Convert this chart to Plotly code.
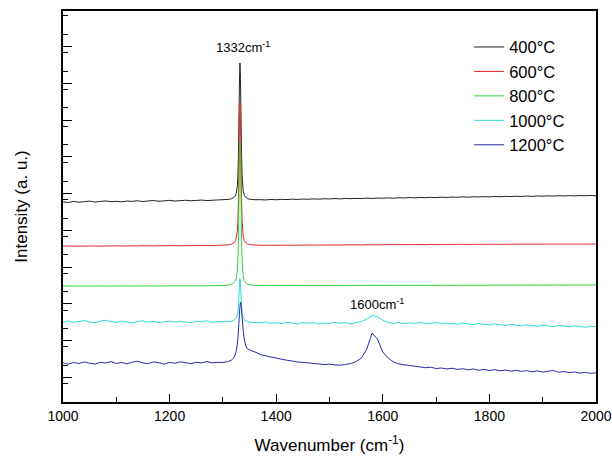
import plotly.graph_objects as go

# Raman shift grid (cm-1), finer around the diamond peak
wavenumber = [
    1000, 1010, 1020, 1030, 1040, 1050, 1060, 1070, 1080, 1090,
    1100, 1110, 1120, 1130, 1140, 1150, 1160, 1170, 1180, 1190,
    1200, 1210, 1220, 1230, 1240, 1250, 1260, 1270, 1280, 1290, 1300,
    1310, 1316, 1320, 1323, 1325, 1327, 1328, 1329, 1330, 1331, 1332,
    1333, 1334, 1335, 1336, 1338, 1340, 1343, 1346, 1350, 1356, 1362,
    1370, 1380, 1390, 1400, 1410, 1420, 1430, 1440, 1450,
    1460, 1470, 1480, 1490, 1500, 1510, 1520, 1530, 1540, 1550,
    1560, 1570, 1580, 1590, 1600, 1610, 1620, 1630, 1640, 1650,
    1660, 1670, 1680, 1690, 1700, 1710, 1720, 1730, 1740, 1750,
    1760, 1770, 1780, 1790, 1800, 1810, 1820, 1830, 1840, 1850,
    1860, 1870, 1880, 1890, 1900, 1910, 1920, 1930, 1940, 1950,
    1960, 1970, 1980, 1990, 2000,
]

# intensities (a.u., curves already stacked)
i_400 = [
    2003, 1996, 2008, 1999, 2005, 2010, 2001, 2007, 2012, 2004,
    2009, 2003, 2011, 2008, 2014, 2006, 2012, 2016, 2009, 2013,
    2018, 2011, 2015, 2019, 2014, 2017, 2021, 2016, 2019, 2022, 2025,
    2027, 2034, 2045, 2061, 2088, 2157, 2239, 2431, 2773, 3184, 3393,
    3228, 2844, 2474, 2268, 2118, 2070, 2047, 2036, 2030, 2026, 2024,
    2025, 2022, 2027, 2024, 2028, 2026, 2030, 2027, 2031,
    2029, 2033, 2030, 2034, 2032, 2036, 2033, 2037, 2035, 2038,
    2036, 2040, 2038, 2041, 2039, 2043, 2040, 2044, 2042, 2046,
    2043, 2047, 2045, 2048, 2046, 2050, 2047, 2051, 2049, 2053,
    2050, 2054, 2052, 2055, 2053, 2057, 2054, 2058, 2056, 2059,
    2057, 2061, 2058, 2062, 2060, 2063, 2061, 2064, 2062, 2065,
    2063, 2066, 2064, 2067, 2063,
]
i_600 = [
    1560, 1561, 1559, 1561, 1560, 1562, 1561, 1560, 1562, 1561,
    1563, 1562, 1561, 1563, 1562, 1564, 1563, 1562, 1564, 1563,
    1565, 1564, 1563, 1565, 1564, 1566, 1565, 1566, 1567, 1568, 1570,
    1573, 1580, 1592, 1609, 1638, 1709, 1795, 1996, 2355, 2785, 3000,
    2828, 2426, 2039, 1824, 1666, 1616, 1595, 1583, 1576, 1572, 1570,
    1569, 1568, 1569, 1568, 1570, 1569, 1570, 1569, 1571,
    1570, 1571, 1570, 1572, 1571, 1572, 1571, 1573, 1572, 1573,
    1572, 1574, 1573, 1574, 1573, 1575, 1574, 1575, 1574, 1576,
    1575, 1576, 1575, 1577, 1576, 1577, 1576, 1578, 1577, 1578,
    1577, 1578, 1577, 1579, 1578, 1579, 1578, 1579, 1578, 1580,
    1579, 1580, 1579, 1580, 1579, 1581, 1580, 1581, 1580, 1581,
    1580, 1581, 1580, 1581, 1580,
]
i_800 = [
    1160, 1160, 1161, 1160, 1161, 1160, 1161, 1161, 1160, 1161,
    1161, 1162, 1161, 1161, 1162, 1161, 1162, 1162, 1161, 1162,
    1162, 1163, 1162, 1162, 1163, 1162, 1163, 1163, 1164, 1165, 1167,
    1170, 1177, 1189, 1206, 1235, 1307, 1393, 1594, 1953, 2384, 2600,
    2428, 2025, 1637, 1422, 1264, 1213, 1192, 1180, 1173, 1169, 1167,
    1166, 1165, 1165, 1166, 1165, 1166, 1166, 1165, 1166,
    1166, 1167, 1166, 1166, 1167, 1166, 1167, 1167, 1166, 1167,
    1167, 1167, 1168, 1167, 1167, 1168, 1167, 1168, 1168, 1167,
    1168, 1168, 1167, 1168, 1168, 1169, 1168, 1168, 1169, 1168,
    1169, 1169, 1168, 1169, 1169, 1169, 1170, 1169, 1169, 1170,
    1169, 1170, 1170, 1169, 1170, 1170, 1171, 1170, 1170, 1171,
    1170, 1171, 1170, 1171, 1171,
]
i_1000 = [
    800, 812, 798, 806, 815, 801, 793, 808, 818, 804,
    797, 810, 802, 790, 806, 813, 799, 808, 795, 804,
    811, 798, 807, 800, 794, 809, 803, 812, 797, 806, 803,
    805, 810, 818, 828, 842, 870, 895, 950, 1045, 1170, 1235,
    1190, 1070, 960, 895, 845, 825, 812, 805, 800, 797, 795,
    792, 801, 786, 795, 783, 797, 790, 781, 794,
    788, 796, 780, 791, 785, 799, 787, 793, 782, 796,
    806, 830, 868, 852, 818, 797, 786, 795, 781, 792,
    787, 798, 783, 790, 796, 781, 792, 785, 778, 790,
    782, 774, 787, 776, 770, 782, 773, 766, 778, 769,
    762, 774, 765, 758, 770, 761, 754, 767, 759, 752,
    763, 755, 748, 760, 753,
]
i_1200 = [
    392, 378, 396, 385, 401, 388, 380, 397, 391, 404,
    386, 395, 382, 399, 408, 390, 385, 401, 393, 379,
    396, 388, 402, 394, 383, 398, 391, 405, 392, 397, 395,
    405, 420, 440, 470, 510, 580, 630, 700, 790, 880, 960,
    1000, 980, 920, 850, 720, 630, 560, 530, 522, 508, 497,
    475, 462, 450, 440, 428, 418, 410, 400, 396,
    392, 385, 381, 374, 379, 371, 368, 376, 385, 405,
    440, 530, 690, 630, 500, 440, 400, 382, 372, 366,
    358, 351, 343, 348, 335, 340, 331, 338, 326, 333,
    322, 330, 318, 327, 315, 324, 312, 320, 309, 317,
    306, 314, 302, 311, 299, 308, 316, 297, 305, 293,
    301, 289, 297, 286, 293,
]

labels = ['400°C', '600°C', '800°C', '1000°C', '1200°C']
colors = ['#222222', '#dd2828', '#2ed02e', '#2ed8d8', '#2a2aae']
series = [i_400, i_600, i_800, i_1000, i_1200]

font_family = 'Arial, Liberation Sans, sans-serif'

fig = go.Figure()
for name, col, ys in zip(labels, colors, series):
    fig.add_trace(go.Scatter(x=wavenumber, y=ys, mode='lines', name=name,
                             line=dict(color=col, width=1, simplify=False)))

# peak labels
fig.add_annotation(x=1338, y=3553, text='1332cm<sup>-1</sup>', showarrow=False,
                   font=dict(size=13, color='black', family=font_family))
fig.add_annotation(x=1590, y=980, text='1600cm<sup>-1</sup>', showarrow=False,
                   font=dict(size=13, color='black', family=font_family))

fig.update_layout(
    width=612, height=459,
    margin=dict(l=63, r=16, t=11, b=57),
    paper_bgcolor='white', plot_bgcolor='white',
    font=dict(family=font_family, color='black'),
    showlegend=True,
    legend=dict(x=0.762, y=0.952, xanchor='left', yanchor='top',
                bgcolor='rgba(0,0,0,0)', font=dict(size=16.5, color='black'),
                tracegroupgap=0),
)

fig.update_xaxes(
    range=[1000, 2000], dtick=200, tick0=1000, automargin=False,
    ticks='inside', ticklen=8, tickwidth=1, tickcolor='black',
    minor=dict(ticks='inside', ticklen=5, dtick=100, tickcolor='black'),
    showline=True, linecolor='black', linewidth=1.5, mirror=True,
    showgrid=False, zeroline=False, ticklabeloverflow='allow',
    tickfont=dict(size=14),
    title=dict(text='Wavenumber (cm<sup>-1</sup>)', font=dict(size=17), standoff=17),
)
fig.update_yaxes(
    range=[0, 3913], tick0=245, dtick=368, automargin=False,
    ticks='inside', ticklen=9, tickwidth=1, tickcolor='black',
    minor=dict(ticks='inside', ticklen=5, dtick=184, tickcolor='black'),
    showticklabels=False,
    showline=True, linecolor='black', linewidth=1.5, mirror=True,
    showgrid=False, zeroline=False,
    title=dict(text='Intensity (a. u.)', font=dict(size=17), standoff=29),
)

# drop the default page margin so the figure fills the window exactly
fig.write_html('out.html', config={'displayModeBar': False},
               post_script="document.body.style.margin='0';document.body.style.overflow='hidden';")
